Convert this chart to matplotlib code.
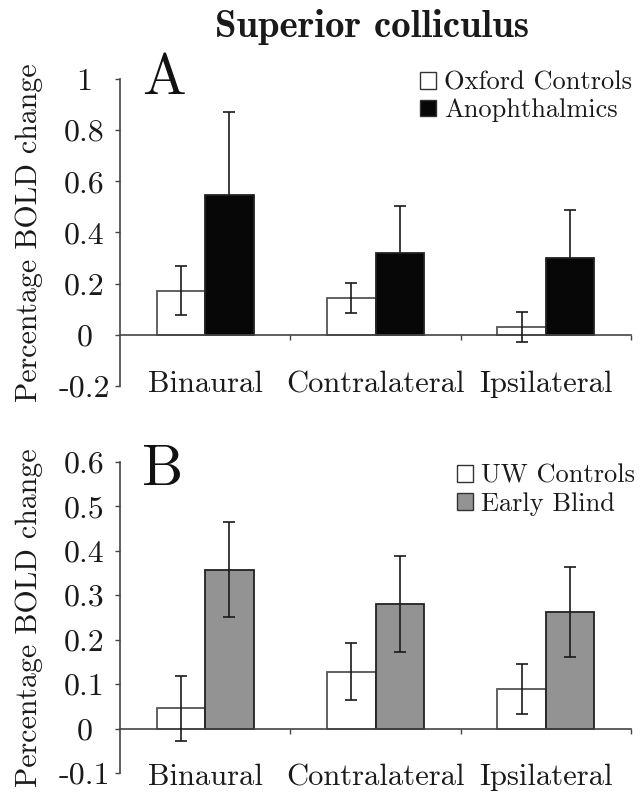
import matplotlib
matplotlib.use('Agg')
import matplotlib.pyplot as plt
import matplotlib.transforms as mtransforms
from matplotlib.patches import Patch
import numpy as np

categories = ['Binaural', 'Contralateral', 'Ipsilateral']

# Panel A
oxford_controls = [0.173, 0.143, 0.031]
oxford_controls_err = [0.097, 0.058, 0.060]
anophthalmics = [0.545, 0.319, 0.300]
anophthalmics_err = [0.325, 0.185, 0.188]

# Panel B
uw_controls = [0.046, 0.128, 0.089]
uw_controls_err = [0.073, 0.064, 0.056]
early_blind = [0.357, 0.281, 0.263]
early_blind_err = [0.107, 0.108, 0.101]

a_ticks = [-0.2, 0, 0.2, 0.4, 0.6, 0.8, 1]
a_ticklabels = ['-0.2', '0', '0.2', '0.4', '0.6', '0.8', '1']
b_ticks = [-0.1, 0, 0.1, 0.2, 0.3, 0.4, 0.5, 0.6]
b_ticklabels = ['-0.1', '0', '0.1', '0.2', '0.3', '0.4', '0.5', '0.6']

plt.rcParams['font.family'] = 'cmr10'
plt.rcParams['axes.unicode_minus'] = False
plt.rcParams['mathtext.fontset'] = 'cm'

TEXT = '#1a1a1a'
LINE = '#444444'


def draw_panel(ax, ctrl, ctrl_err, grp, grp_err, grp_color, names,
               ticks, ticklabels, letter, letter_y, label_y, leg_anchor, err_under):
    x = np.arange(len(categories))
    w = 0.285
    ax.bar(x - w / 2, ctrl, w, color='white', edgecolor='#555555', linewidth=1.3, zorder=2)
    ax.bar(x + w / 2, grp, w, color=grp_color, edgecolor='#222222', linewidth=1.3, zorder=2)
    ax.errorbar(x - w / 2, ctrl, yerr=ctrl_err, fmt='none', ecolor='#1a1a1a',
                elinewidth=1.2, capsize=4, capthick=1.2, zorder=3)
    # in panel A the dark bars cover the lower half of their error bars
    ax.errorbar(x + w / 2, grp, yerr=grp_err, fmt='none', ecolor='#1a1a1a',
                elinewidth=1.2, capsize=4, capthick=1.2, zorder=1 if err_under else 3)

    ax.set_xlim(-0.5, 2.5)
    ax.set_ylim(ticks[0], ticks[-1])
    ax.set_yticks(ticks, ticklabels)
    ax.set_xticks([0.5, 1.5, 2.5], [])
    ax.spines['bottom'].set_position(('data', 0))
    ax.spines['top'].set_visible(False)
    ax.spines['right'].set_visible(False)
    for s in ['left', 'bottom']:
        ax.spines[s].set_color(LINE)
        ax.spines[s].set_linewidth(1.2)
    ax.tick_params(axis='y', direction='out', length=3.6, width=1.0, color=LINE,
                   labelcolor=TEXT, labelsize=23, pad=22)
    for lab in ax.get_yticklabels():
        lab.set_horizontalalignment('center')
    ax.tick_params(axis='x', direction='out', length=3.6, width=1.0, color=LINE)

    # category names sit just below the plotting area
    trans = mtransforms.blended_transform_factory(ax.transData, ax.transAxes)
    for i, c in enumerate(categories):
        ax.text(i, label_y, c, transform=trans, ha='center', va='baseline',
                fontsize=22, color=TEXT)

    ax.set_ylabel('Percentage BOLD change', fontsize=21.5, color=TEXT)
    ax.yaxis.set_label_coords(-0.15, 0.5)

    ax.text(0.043, letter_y, letter, transform=ax.transAxes, fontsize=42,
            va='baseline', ha='left', color='#111111')

    handles = [Patch(facecolor='white', edgecolor='#333333', linewidth=1.0),
               Patch(facecolor=grp_color, edgecolor='#333333', linewidth=1.0)]
    ax.legend(handles, names, loc='upper right', bbox_to_anchor=leg_anchor,
              frameon=False, fontsize=19, handlelength=0.6, handleheight=0.6,
              handletextpad=0.3, labelspacing=0.15, borderpad=0, borderaxespad=0,
              labelcolor=TEXT)


fig = plt.figure(figsize=(6.4, 7.92), dpi=100)
ax_a = fig.add_axes([0.1875, 0.5126, 0.7985, 0.3877])
ax_b = fig.add_axes([0.1875, 0.024, 0.7985, 0.3927])

draw_panel(ax_a, oxford_controls, oxford_controls_err, anophthalmics, anophthalmics_err,
           '#070707', ['Oxford Controls', 'Anophthalmics'],
           a_ticks, a_ticklabels, 'A', 0.951, -0.02, (1.002, 1.026), True)
draw_panel(ax_b, uw_controls, uw_controls_err, early_blind, early_blind_err,
           '#939393', ['UW Controls', 'Early Blind'],
           b_ticks, b_ticklabels, 'B', 0.926, -0.039, (1.008, 0.993), False)

fig.text(372 / 640, 1 - 27 / 792, 'Superior colliculus', fontfamily='cmb10',
         fontsize=28, ha='center', va='center', color=TEXT)

fig.savefig('out.png', dpi=100)
